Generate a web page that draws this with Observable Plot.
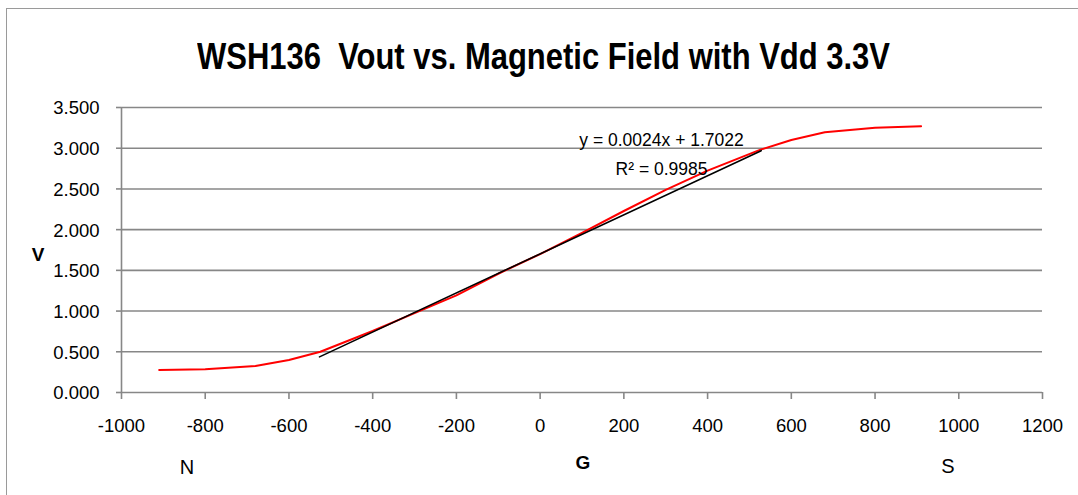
<!DOCTYPE html>
<html>
<head>
<meta charset="utf-8">
<script src="https://cdn.jsdelivr.net/npm/d3@7"></script>
<script src="https://cdn.jsdelivr.net/npm/@observablehq/plot@0.6"></script>
<style>
  html, body { margin: 0; padding: 0; background: #fff; }
  #wrap { position: relative; width: 1078px; height: 495px; overflow: hidden; font-family: "Liberation Sans", Arial, sans-serif; }
  #frame { position: absolute; left: 6px; top: 8px; width: 2000px; height: 2000px; border-left: 1.5px solid #9a9a9a; border-top: 1.5px solid #9a9a9a; }
  .lbl { position: absolute; color: #000; white-space: nowrap; line-height: 1; transform: translate(-50%, -50%); }
  #title { font-weight: bold; font-size: 36.5px; transform-origin: 0 0; transform: none; }
  #chart { position: absolute; left: 0; top: 0; }
</style>
</head>
<body>
<div id="wrap">
  <div id="frame"></div>
  <div id="chart"></div>
  <div id="title" class="lbl">WSH136&nbsp;&nbsp;Vout vs. Magnetic Field with Vdd 3.3V</div>
  <div class="lbl" style="left:38px; top:254px; font-size:19px; font-weight:bold;">V</div>
  <div class="lbl" style="left:583px; top:462px; font-size:19px; font-weight:bold;">G</div>
  <div class="lbl" style="left:187px; top:467px; font-size:20px;">N</div>
  <div class="lbl" style="left:948px; top:466px; font-size:20px;">S</div>
</div>
<script>
// Measured data: magnetic field (G) vs output voltage (V)
const fieldG = [-910, -800, -680, -600, -525, -400, -300, -200, -100, 0, 100, 200, 300, 400, 525, 600, 680, 800, 910];
const voutV  = [0.276, 0.285, 0.325, 0.400, 0.500, 0.755, 0.974, 1.193, 1.458, 1.700, 1.959, 2.229, 2.489, 2.725, 2.980, 3.100, 3.195, 3.250, 3.270];

// Linear trendline (from the chart's equation) and the range it spans
const trendSlope = 0.0024;
const trendIntercept = 1.7022;
const trendRange = [-527, 528];
const trendLabels = ["y = 0.0024x + 1.7022", "R\u00b2 = 0.9985"];

// Axis ticks
const xTicks = [-1000, -800, -600, -400, -200, 0, 200, 400, 600, 800, 1000, 1200];
const yTicks = [0, 0.5, 1, 1.5, 2, 2.5, 3, 3.5];

const data = fieldG.map((g, i) => ({g, v: voutV[i]}));
const trend = trendRange.map(g => ({g, v: trendSlope * g + trendIntercept}));

const gray = "#878787";
const font = "Liberation Sans, Arial, sans-serif";

const chart = Plot.plot({
  width: 1078,
  height: 495,
  marginLeft: 121,
  marginRight: 36,
  marginTop: 107,
  marginBottom: 103,
  style: {background: "transparent", fontFamily: font},
  x: {domain: [-1000, 1200], axis: null},
  y: {domain: [0, 3.5], axis: null},
  marks: [
    Plot.ruleY(yTicks, {stroke: gray, strokeWidth: 1.6}),
    Plot.ruleX([-1000], {stroke: gray, strokeWidth: 1.6}),
    Plot.axisX({ticks: xTicks, tickSize: 7, tickFormat: () => "", label: null, stroke: gray, strokeWidth: 1.6, strokeOpacity: 1}),
    Plot.axisY({ticks: yTicks, tickSize: 5, tickFormat: () => "", label: null, stroke: gray, strokeWidth: 1.6, strokeOpacity: 1}),
    Plot.text(xTicks, {x: d => d, frameAnchor: "bottom", dy: 34, lineAnchor: "middle", text: d => String(d), fontSize: 18.5, fill: "#000"}),
    Plot.text(yTicks, {y: d => d, frameAnchor: "left", dx: -22, dy: 1, textAnchor: "end", lineAnchor: "middle", text: d => d3.format(".3f")(d), fontSize: 18.5, fill: "#000"}),
    Plot.line(data, {x: "g", y: "v", stroke: "#ff0000", strokeWidth: 2}),
    Plot.line(trend, {x: "g", y: "v", stroke: "#000", strokeWidth: 1.6}),
    Plot.text([trendLabels[0]], {x: 290, y: 3.098, text: d => d, fontSize: 17.5, lineAnchor: "middle", fill: "#000"}),
    Plot.text([trendLabels[1]], {x: 290, y: 2.74, text: d => d, fontSize: 17.5, lineAnchor: "middle", fill: "#000"})
  ]
});
document.getElementById("chart").appendChild(chart);

// fit the title to the reference's narrow bold face: left 197, width 693, centre y 57
const t = document.getElementById("title");
const r = t.getBoundingClientRect();
const sx = 693 / r.width;
t.style.left = "197px";
t.style.top = (57 - r.height / 2) + "px";
t.style.transform = `scaleX(${sx})`;
</script>
</body>
</html>
